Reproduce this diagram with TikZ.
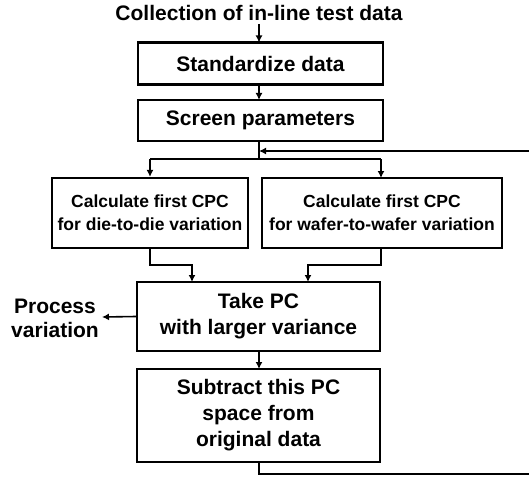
\documentclass[tikz,border=0pt]{standalone}
\usepackage{fontspec}
\setmainfont{Liberation Sans}
\usetikzlibrary{arrows.meta,calc}
\begin{document}
\begin{tikzpicture}[x=1pt,y=-1pt,
  box/.style={draw=black,line width=2.2pt,inner sep=0pt,align=center,font=\bfseries\fontsize{21}{26}\selectfont},
  smallbox/.style={box,font=\bfseries\fontsize{17.5}{23}\selectfont},
  lbl/.style={inner sep=0pt,align=center,font=\bfseries\fontsize{21}{24}\selectfont},
  conn/.style={line width=1.6pt,-{Latex[length=7pt,width=7pt]}},
  plain/.style={line width=1.6pt}]
\useasboundingbox (0,0) rectangle (529,476);
\node[lbl] (title) at (259,13) {Collection of in-line test data};
\node[box,minimum width=245pt,minimum height=42pt] (std) at (260.5,63.5) {Standardize data};
\node[box,minimum width=245pt,minimum height=41pt] (scr) at (260.5,120.5) {Screen parameters};
\node[smallbox,minimum width=196pt,minimum height=70pt] (cpc1) at (150,213) {Calculate first CPC\\for die-to-die variation};
\node[smallbox,minimum width=240pt,minimum height=70pt] (cpc2) at (382,213) {Calculate first CPC\\for wafer-to-wafer variation};
\node[box,minimum width=243pt,minimum height=69pt] (take) at (258.5,316.5) {Take PC\\with larger variance};
\node[box,minimum width=243pt,minimum height=93pt] (sub) at (258.5,415.5) {Subtract this PC\\space from\\original data};
\node[lbl] (proc) at (55,318) {Process\\variation};
\coordinate (split) at (259,159);
\coordinate (fbL) at (259,151);
\coordinate (fbR) at (530,151);
\coordinate (loopB) at (259,474);
\coordinate (loopR) at (530,474);
\coordinate (j1) at (150,265);
\coordinate (j2) at (381,265);
\draw[conn] (title.south -| 259,0) ++(0,3) -- (259,42.5);
\draw[conn] (259,84.5) -- (259,100);
\draw[plain] (259,141) -- (split);
\draw[plain] (150,159) -- (381,159);
\draw[conn] (150,159) -- (cpc1.north);
\draw[conn] (381,159) -- (381,178);
\draw[conn] (fbR) -- (fbL);
\draw[conn] (cpc1.south) -- (j1) -- (192,265) -- (192,282);
\draw[conn] (381,248) -- (j2) -- (308,265) -- (308,282);
\draw[conn] (take.west) -- (102,317);
\draw[conn] (259,351) -- (259,369);
\draw[plain] (259,462) -- (loopB) -- (loopR);
\end{tikzpicture}
\end{document}
